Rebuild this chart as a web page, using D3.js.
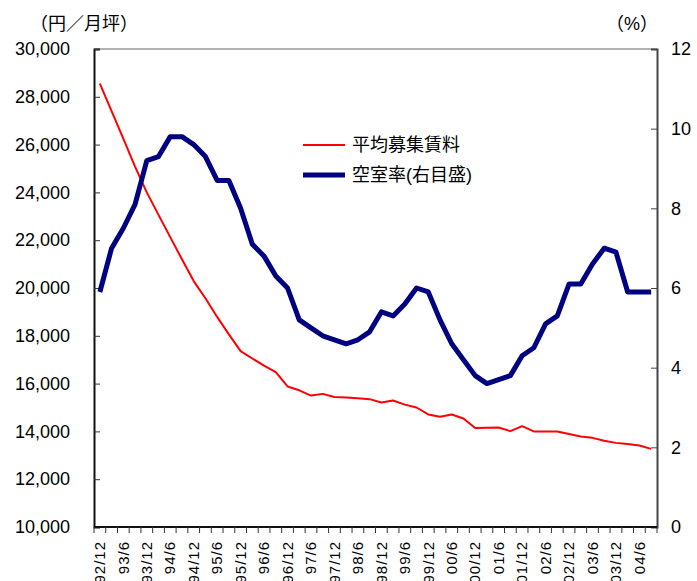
<!DOCTYPE html>
<html>
<head>
<meta charset="utf-8">
<script src="https://cdn.jsdelivr.net/npm/d3@7"></script>
<style>
  body { margin: 0; background: #fff; }
  svg { display: block; font-family: "Liberation Sans", Arial, "Noto Sans CJK JP", sans-serif; }
</style>
</head>
<body>
<svg id="chart" width="697" height="581"></svg>
<script>
// 四半期（92/12 〜 04/9）
var periods = ["92/12","93/3","93/6","93/9","93/12","94/3","94/6","94/9","94/12","95/3","95/6","95/9",
  "95/12","96/3","96/6","96/9","96/12","97/3","97/6","97/9","97/12","98/3","98/6","98/9",
  "98/12","99/3","99/6","99/9","99/12","00/3","00/6","00/9","00/12","01/3","01/6","01/9",
  "01/12","02/3","02/6","02/9","02/12","03/3","03/6","03/9","03/12","04/3","04/6","04/9"];

// 平均募集賃料（円／月坪）
var rent = [28550, 27400, 26250, 25080, 24000, 23060, 22130, 21200, 20290, 19570, 18790, 18060,
  17360, 17050, 16750, 16480, 15880, 15720, 15500, 15570, 15440, 15420, 15390, 15350,
  15210, 15290, 15120, 15000, 14710, 14610, 14710, 14540, 14140, 14150, 14160, 14010,
  14220, 14000, 14000, 14000, 13890, 13790, 13730, 13610, 13520, 13470, 13410, 13270];

// 空室率（%）
var vacancy = [5.9, 7.0, 7.5, 8.1, 9.2, 9.3, 9.8, 9.8, 9.6, 9.3, 8.7, 8.7,
  8.0, 7.1, 6.8, 6.3, 6.0, 5.2, 5.0, 4.8, 4.7, 4.6, 4.7, 4.9,
  5.4, 5.3, 5.6, 6.0, 5.9, 5.2, 4.6, 4.2, 3.8, 3.6, 3.7, 3.8,
  4.3, 4.5, 5.1, 5.3, 6.1, 6.1, 6.6, 7.0, 6.9, 5.9, 5.9, 5.9];

var leftTicks = [10000, 12000, 14000, 16000, 18000, 20000, 22000, 24000, 26000, 28000, 30000];
var rightTicks = [0, 2, 4, 6, 8, 10, 12];

var svg = d3.select("#chart");
var plotL = 94, plotR = 657, plotT = 49, plotB = 527;

var x = d3.scaleBand().domain(periods).range([plotL, plotR]);
var yL = d3.scaleLinear().domain([10000, 30000]).range([plotB, plotT]);
var yR = d3.scaleLinear().domain([0, 12]).range([plotB, plotT]);
var cx = function(d) { return x(d) + x.bandwidth() / 2; };

// 枠
svg.append("line").attr("x1", plotL).attr("x2", plotR).attr("y1", plotT).attr("y2", plotT)
  .attr("stroke", "#999").attr("stroke-width", 1.5);

// 左軸
var gL = svg.append("g").attr("transform", "translate(" + plotL + ",0)")
  .call(d3.axisLeft(yL).tickValues(leftTicks).tickSize(-6).tickPadding(24)
    .tickFormat(d3.format(",")));
gL.select(".domain").attr("stroke", "#111").attr("stroke-width", 2);
gL.selectAll(".tick line").attr("stroke", "#333");
gL.selectAll("text").style("font-size", "18px").attr("fill", "#000");

// 右軸
var gR = svg.append("g").attr("transform", "translate(" + plotR + ",0)")
  .call(d3.axisRight(yR).tickValues(rightTicks).tickSize(-6).tickPadding(14));
gR.select(".domain").attr("stroke", "#444").attr("stroke-width", 2);
gR.selectAll(".tick line").attr("stroke", "#444");
gR.selectAll("text").style("font-size", "18px").attr("fill", "#000");

// 下軸
svg.append("line").attr("x1", plotL).attr("x2", plotR).attr("y1", plotB).attr("y2", plotB)
  .attr("stroke", "#111").attr("stroke-width", 2);
var bounds = periods.map(function(d) { return x(d); }).concat([x.range()[1]]);
svg.append("g").selectAll("line").data(bounds).enter().append("line")
  .attr("x1", function(d) { return d; }).attr("x2", function(d) { return d; })
  .attr("y1", plotB).attr("y2", plotB + 6)
  .attr("stroke", "#333");
svg.append("g").selectAll("text")
  .data(periods.filter(function(d, i) { return i % 2 === 0; }))
  .enter().append("text")
  .attr("transform", function(d) { return "translate(" + cx(d) + "," + 541 + ")rotate(-90)"; })
  .attr("text-anchor", "end")
  .attr("dy", "0.35em")
  .style("font-size", "15px")
  .style("letter-spacing", "1px")
  .text(function(d) { return d; });

// 単位
svg.append("text").attr("x", 84).attr("y", 30).attr("text-anchor", "middle")
  .style("font-size", "18px").text("（円／月坪）");
svg.append("text").attr("x", 632).attr("y", 30).attr("text-anchor", "middle")
  .style("font-size", "18px").text("（%）");

// 線
var lineL = d3.line().x(function(d, i) { return cx(periods[i]); }).y(function(d) { return yL(d); });
var lineR = d3.line().x(function(d, i) { return cx(periods[i]); }).y(function(d) { return yR(d); });

svg.append("path").datum(rent).attr("d", lineL)
  .attr("fill", "none").attr("stroke", "#ff0000").attr("stroke-width", 2)
  .attr("stroke-linejoin", "round");
svg.append("path").datum(vacancy).attr("d", lineR)
  .attr("fill", "none").attr("stroke", "#000080").attr("stroke-width", 5)
  .attr("stroke-linejoin", "round");

// 凡例
var legend = [
  { label: "平均募集賃料", color: "#ff0000", w: 2, y: 145 },
  { label: "空室率(右目盛)", color: "#000080", w: 5, y: 175 }
];
var lg = svg.append("g").selectAll("g").data(legend).enter().append("g");
lg.append("line").attr("x1", 303).attr("x2", 345)
  .attr("y1", function(d) { return d.y; }).attr("y2", function(d) { return d.y; })
  .attr("stroke", function(d) { return d.color; })
  .attr("stroke-width", function(d) { return d.w; });
lg.append("text").attr("x", 352).attr("y", function(d) { return d.y; })
  .attr("dy", "0.35em").style("font-size", "18px")
  .text(function(d) { return d.label; });
</script>
</body>
</html>
